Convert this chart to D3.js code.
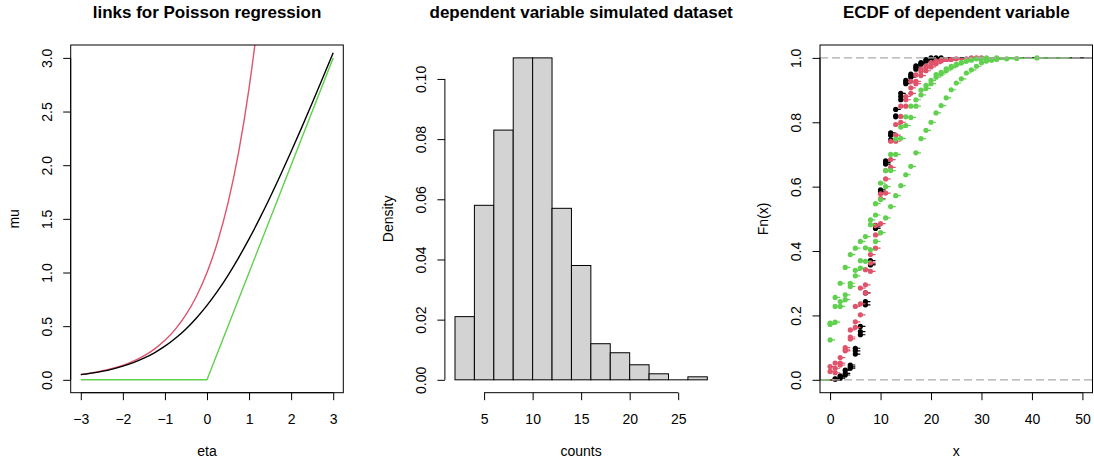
<!DOCTYPE html>
<html>
<head>
<meta charset="utf-8">
<script src="https://cdn.jsdelivr.net/npm/d3@7"></script>
<style>
  html, body { margin: 0; padding: 0; background: #fff; }
  svg { display: block; font-family: "Liberation Sans", Arial, Helvetica, sans-serif; }
</style>
</head>
<body>
<svg id="fig" width="1094" height="464"></svg>
<script>
// ---- panel 1: link functions evaluated on a grid of eta ----
const etaGrid = [-3, -2.75, -2.5, -2.25, -2, -1.75, -1.5, -1.25, -1, -0.75, -0.5, -0.25,
                 0, 0.25, 0.5, 0.75, 1, 1.25, 1.5];
const muSoftplus = [0.0486, 0.0620, 0.0789, 0.1002, 0.1269, 0.1602, 0.2014, 0.2519, 0.3133,
                    0.3869, 0.4741, 0.5759, 0.6931, 0.8259, 0.9741, 1.1369, 1.3133, 1.5019, 1.7014];
const etaGridUpper = [1.5, 1.75, 2, 2.25, 2.5, 2.75, 3];
const muSoftplusUpper = [1.7014, 1.9102, 2.1269, 2.3502, 2.5789, 2.8120, 3.0486];
const muExp = [0.0498, 0.0639, 0.0821, 0.1054, 0.1353, 0.1738, 0.2231, 0.2865, 0.3679,
               0.4724, 0.6065, 0.7788, 1.0, 1.2840, 1.6487, 2.1170, 2.7183, 3.4903, 4.4817];
const etaRelu = [-3, 0, 3];
const muRelu = [0, 0, 3];
const etaTicks = [-3, -2, -1, 0, 1, 2, 3];
const muTicks = [0, 0.5, 1, 1.5, 2, 2.5, 3];
const muTickLabels = ["0.0", "0.5", "1.0", "1.5", "2.0", "2.5", "3.0"];

// ---- panel 2: histogram of simulated counts ----
const histBreaks = [2, 4, 6, 8, 10, 12, 14, 16, 18, 20, 22, 24, 26, 28];
const histDensity = [0.021, 0.058, 0.083, 0.107, 0.107, 0.057, 0.038, 0.012, 0.009, 0.005, 0.002, 0, 0.001];
const countTicks = [5, 10, 15, 20, 25];
const densityTicks = [0, 0.02, 0.04, 0.06, 0.08, 0.10];
const densityTickLabels = ["0.00", "0.02", "0.04", "0.06", "0.08", "0.10"];

// ---- panel 3: empirical CDFs, [x, Fn(x)] at each jump ----
const blackRun1 = [[1,0.003],[2,0.01],[3,0.02],[4,0.036],[5,0.08],[6,0.14],[7,0.233],[8,0.357],[9,0.47],[10,0.585],
  [11,0.675],[12,0.745],[13,0.817],[14,0.87],[15,0.925],[16,0.94],[17,0.965],[18,0.98],[19,0.99],[20,0.995],[21,1.0]];
const blackRun2 = [[2,0.005],[3,0.015],[4,0.046],[5,0.098],[6,0.166],[7,0.243],[8,0.37],[9,0.48],[10,0.59],
  [11,0.68],[12,0.767],[13,0.84],[14,0.89],[15,0.93],[16,0.95],[17,0.975],[18,0.985],[19,0.995],[20,1.0]];
const blackRun3 = [[1,0.002],[2,0.012],[3,0.03],[4,0.04],[5,0.09],[6,0.15],[7,0.27],[8,0.36],[9,0.475],[10,0.58],
  [11,0.67],[12,0.76],[13,0.82],[14,0.88],[15,0.92],[16,0.945],[17,0.97],[18,0.982],[19,0.99],[21,0.997],[22,1.0]];
const redRun1 = [[1,0.022],[2,0.046],[3,0.09],[4,0.127],[5,0.163],[6,0.202],[7,0.27],[8,0.337],[9,0.409],[10,0.485],
  [11,0.58],[12,0.66],[13,0.741],[14,0.8],[15,0.85],[16,0.89],[17,0.92],[18,0.945],[19,0.96],[20,0.972],
  [21,0.982],[22,0.99],[24,0.995],[28,1.0]];
const redRun2 = [[0,0.026],[1,0.036],[2,0.052],[3,0.093],[4,0.155],[5,0.18],[6,0.236],[7,0.295],[8,0.363],[9,0.45],
  [10,0.563],[11,0.624],[12,0.684],[13,0.76],[14,0.818],[15,0.87],[16,0.907],[17,0.927],[18,0.958],[19,0.97],
  [20,0.98],[21,0.99],[22,0.993],[25,0.997],[29,1.0]];
const redRun3 = [[0,0.041],[1,0.052],[2,0.069],[3,0.1],[4,0.133],[5,0.228],[6,0.285],[7,0.342],[8,0.389],[9,0.479],
  [10,0.578],[11,0.65],[12,0.741],[13,0.793],[14,0.85],[15,0.88],[16,0.927],[17,0.947],[18,0.965],[19,0.975],
  [20,0.985],[21,0.99],[23,0.995],[27,0.997],[30,1.0]];
const greenRun1 = [[0,0.124],[1,0.179],[2,0.228],[3,0.249],[4,0.29],[5,0.323],[6,0.347],[7,0.368],[8,0.404],[9,0.43],
  [10,0.457],[11,0.503],[12,0.538],[13,0.572],[14,0.603],[15,0.637],[16,0.663],[17,0.705],[18,0.749],[19,0.775],
  [20,0.8],[21,0.829],[22,0.852],[23,0.876],[24,0.901],[25,0.922],[26,0.935],[27,0.953],[28,0.963],[29,0.974],
  [30,0.985],[31,0.99],[32,0.993],[33,0.995],[35,0.997],[37,0.998],[41,1.0]];
const greenRun2 = [[0,0.176],[1,0.256],[2,0.3],[3,0.349],[4,0.389],[5,0.409],[6,0.43],[7,0.445],[8,0.497],[9,0.547],
  [10,0.611],[11,0.65],[12,0.7],[13,0.748],[14,0.785],[15,0.817],[16,0.85],[17,0.87],[18,0.9],[19,0.915],
  [20,0.93],[21,0.948],[22,0.955],[23,0.966],[24,0.974],[25,0.98],[26,0.985],[27,0.99],[28,0.993],[30,0.997],[31,1.0]];
const greenRun3 = [[0,0.172],[1,0.228],[2,0.243],[3,0.264],[4,0.3],[5,0.34],[6,0.37],[7,0.41],[8,0.482],[9,0.512],
  [10,0.56],[11,0.6],[12,0.65],[13,0.7],[14,0.75],[15,0.79],[16,0.815],[17,0.85],[18,0.885],[19,0.905],
  [20,0.92],[21,0.94],[22,0.95],[23,0.96],[24,0.97],[25,0.978],[26,0.985],[27,0.99],[28,0.995],[29,0.997],[33,1.0]];
const ecdfXlim = [0, 50];
const xTicksEcdf = [0, 10, 20, 30, 40, 50];
const fnTicks = [0, 0.2, 0.4, 0.6, 0.8, 1.0];
const fnTickLabels = ["0.0", "0.2", "0.4", "0.6", "0.8", "1.0"];

// ---- colours ----
const COL_BLACK = "#000000", COL_RED = "#DF536B", COL_GREEN = "#61D04F", COL_REF = "#ABABAB";

const svg = d3.select("#fig");
const TOP = 45, BOTTOM = 392.7;
const TICK = 7.5;
const FS_TICK = 14, FS_LAB = 14, FS_MAIN = 17;

function makePanel(id, left, right, xDomain, yDomain) {
  const x = d3.scaleLinear().domain(xDomain).range([left, right]);
  const y = d3.scaleLinear().domain(yDomain).range([BOTTOM, TOP]);
  svg.append("clipPath").attr("id", id)
    .append("rect").attr("x", left).attr("y", TOP).attr("width", right - left).attr("height", BOTTOM - TOP);
  return { x, y, left, right, clip: `url(#${id})` };
}

function bottomAxis(p, ticks, labels) {
  const g = svg.append("g").attr("transform", `translate(0,${BOTTOM})`)
    .call(d3.axisBottom(p.x).tickValues(ticks).tickSize(TICK).tickSizeOuter(0)
      .tickFormat((d, i) => labels ? labels[i] : String(d).replace("-", "\u2212")));
  g.select(".domain").remove();
  g.append("line").attr("x1", p.x(ticks[0])).attr("x2", p.x(ticks[ticks.length - 1]))
    .attr("stroke", "#000").attr("stroke-width", 1);
  g.selectAll(".tick line").attr("stroke", "#000");
  g.selectAll(".tick text").attr("y", 31).attr("dy", 0)
    .attr("font-size", FS_TICK).attr("fill", "#000").attr("font-family", null);
}

function leftAxis(p, ticks, labels) {
  const g = svg.append("g").attr("transform", `translate(${p.left},0)`)
    .call(d3.axisLeft(p.y).tickValues(ticks).tickSize(TICK).tickSizeOuter(0)
      .tickFormat((d, i) => labels[i]));
  g.select(".domain").remove();
  g.append("line").attr("y1", p.y(ticks[0])).attr("y2", p.y(ticks[ticks.length - 1]))
    .attr("stroke", "#000").attr("stroke-width", 1);
  g.selectAll(".tick line").attr("stroke", "#000");
  g.selectAll(".tick text").attr("x", 0).attr("dy", 0)
    .attr("transform", "translate(-19,0) rotate(-90)")
    .attr("text-anchor", "middle")
    .attr("font-size", FS_TICK).attr("fill", "#000").attr("font-family", null);
}

function labels(p, main, xlab, ylab) {
  const cx = (p.left + p.right) / 2;
  svg.append("text").attr("x", cx).attr("y", 18).attr("text-anchor", "middle")
    .attr("font-size", FS_MAIN).attr("font-weight", "bold").text(main);
  svg.append("text").attr("x", cx).attr("y", 456).attr("text-anchor", "middle")
    .attr("font-size", FS_LAB).text(xlab);
  const ly = (TOP + BOTTOM) / 2;
  svg.append("text").attr("transform", `translate(${p.left - 52},${ly}) rotate(-90)`)
    .attr("text-anchor", "middle").attr("font-size", FS_LAB).text(ylab);
}

function box(p) {
  svg.append("rect").attr("x", p.left).attr("y", TOP)
    .attr("width", p.right - p.left).attr("height", BOTTOM - TOP)
    .attr("fill", "none").attr("stroke", "#000").attr("stroke-width", 1);
}

// ================= panel 1 =================
const p1 = makePanel("clip1", 70.7, 343.3, [-3.24, 3.24], [-0.12, 3.12]);
const line1 = (xs, ys) => d3.line().curve(d3.curveMonotoneX)
  .x((d, i) => p1.x(xs[i])).y((d, i) => p1.y(ys[i]))(xs);
const g1 = svg.append("g").attr("clip-path", p1.clip).attr("fill", "none").attr("stroke-width", 1.4);
g1.append("path").attr("d", line1(etaGrid, muExp)).attr("stroke", COL_RED);
g1.append("path").attr("d", line1(etaGrid.concat(etaGridUpper.slice(1)), muSoftplus.concat(muSoftplusUpper.slice(1))))
  .attr("stroke", COL_BLACK);
g1.append("path").attr("d", d3.line().x((d, i) => p1.x(etaRelu[i])).y((d, i) => p1.y(muRelu[i]))(etaRelu))
  .attr("stroke", COL_GREEN);
box(p1);
bottomAxis(p1, etaTicks);
leftAxis(p1, muTicks, muTickLabels);
labels(p1, "links for Poisson regression", "eta", "mu");

// ================= panel 2 =================
const p2 = makePanel("clip2", 444.9, 717.4, [0.96, 29.04], [-0.00428, 0.11128]);
const bars = svg.append("g");
bars.selectAll("rect").data(histDensity).join("rect")
  .attr("x", (d, i) => p2.x(histBreaks[i]))
  .attr("width", (d, i) => p2.x(histBreaks[i + 1]) - p2.x(histBreaks[i]))
  .attr("y", d => p2.y(d))
  .attr("height", d => p2.y(0) - p2.y(d))
  .attr("fill", "#D3D3D3").attr("stroke", "#000").attr("stroke-width", 1);
// empty bins still show their border along the baseline
bars.selectAll("line").data(histDensity.map((d, i) => [d, i]).filter(e => e[0] === 0)).join("line")
  .attr("x1", e => p2.x(histBreaks[e[1]])).attr("x2", e => p2.x(histBreaks[e[1] + 1]))
  .attr("y1", p2.y(0)).attr("y2", p2.y(0)).attr("stroke", "#000").attr("stroke-width", 1);
bottomAxis(p2, countTicks);
leftAxis(p2, densityTicks, densityTickLabels);
labels(p2, "dependent variable simulated dataset", "counts", "Density");

// ================= panel 3 =================
const p3 = makePanel("clip3", 820, 1092.5, [-2, 52], [-0.04, 1.04]);
const g3 = svg.append("g").attr("clip-path", p3.clip);

// step function: horizontal pieces between jumps, extended past the x range
function drawEcdf(run, col, xlim) {
  const knots = run.map(d => d[0]);
  let lo, hi, dr;
  if (xlim) {
    [lo, hi] = xlim; dr = hi - lo;
  } else {
    const diffs = knots.slice(1).map((k, i) => k - knots[i]);
    dr = Math.max(0.08 * (knots[knots.length - 1] - knots[0]), d3.median(diffs));
    lo = knots[0] - dr; hi = knots[knots.length - 1] + dr;
  }
  const segs = [[lo - dr, knots[0], 0]];
  run.forEach((d, i) => {
    const next = i < run.length - 1 ? run[i + 1][0] : hi + dr;
    segs.push([d[0], next, d[1]]);
  });
  const g = g3.append("g");
  g.selectAll("line").data(segs).join("line")
    .attr("x1", d => p3.x(d[0])).attr("x2", d => p3.x(d[1]))
    .attr("y1", d => p3.y(d[2])).attr("y2", d => p3.y(d[2]))
    .attr("stroke", col).attr("stroke-width", 1.2);
  g.selectAll("circle").data(run).join("circle")
    .attr("cx", d => p3.x(d[0])).attr("cy", d => p3.y(d[1])).attr("r", 2.6)
    .attr("fill", col);
}
drawEcdf(blackRun1, COL_BLACK, ecdfXlim);
[blackRun2, blackRun3].forEach(r => drawEcdf(r, COL_BLACK));
[redRun1, redRun2, redRun3].forEach(r => drawEcdf(r, COL_RED));
[greenRun1, greenRun2, greenRun3].forEach(r => drawEcdf(r, COL_GREEN));

// reference lines at 0 and 1
g3.selectAll("line.ref").data([0, 1]).join("line").attr("class", "ref")
  .attr("x1", p3.left).attr("x2", p3.right)
  .attr("y1", d => p3.y(d)).attr("y2", d => p3.y(d))
  .attr("stroke", COL_REF).attr("stroke-width", 1.2).attr("stroke-dasharray", "8,4");

box(p3);
bottomAxis(p3, xTicksEcdf);
leftAxis(p3, fnTicks, fnTickLabels);
labels(p3, "ECDF of dependent variable", "x", "Fn(x)");
</script>
</body>
</html>
